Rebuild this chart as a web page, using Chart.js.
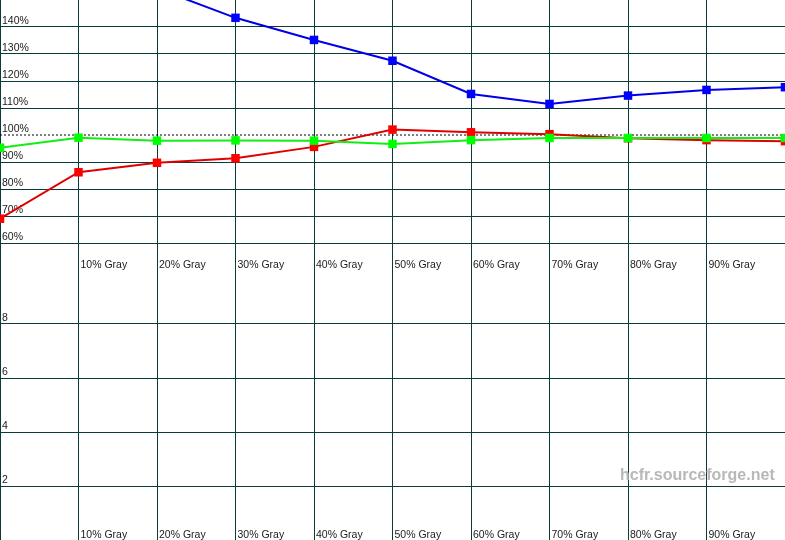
<!DOCTYPE html>
<html>
<head>
<meta charset="utf-8">
<title>HCFR - RGB levels</title>
<script src="https://cdn.jsdelivr.net/npm/chart.js@4.4.1/dist/chart.umd.min.js"></script>
<style>
  body { margin: 0; background: #fff; }
  #wrap { position: relative; width: 785px; height: 540px; overflow: hidden; }
  canvas { position: absolute; left: 0; }
  #levels { top: 0; }
  #deltaE { top: 270px; }
  #mark {
    position: absolute; left: 620px; top: 467px;
    font: bold 16px 'Liberation Sans', Arial, sans-serif;
    line-height: 16px; color: #b8b8b8;
  }
</style>
</head>
<body>
<div id="wrap">
  <canvas id="levels" width="785" height="270"></canvas>
  <canvas id="deltaE" width="785" height="270"></canvas>
  <div id="mark">hcfr.sourceforge.net</div>
</div>
<script>
// gray steps along the bottom
const xLabels = ['', '10% Gray', '20% Gray', '30% Gray', '40% Gray', '50% Gray',
                 '60% Gray', '70% Gray', '80% Gray', '90% Gray', ''];

// RGB levels in % (blue 0% and 10% are off the top of the graph)
const redLevels   = [69.0, 86.2, 89.7, 91.4, 95.6, 102.0, 101.0, 100.3, 98.8, 98.1, 97.7];
const greenLevels = [95.3, 99.0, 97.9, 98.0, 97.9, 96.7, 98.1, 98.9, 98.9, 98.9, 98.9];
const blueLevels  = [190, 170, 154.3, 143.4, 135.2, 127.5, 115.2, 111.5, 114.6, 116.7, 117.7];
const reference   = [100, 100, 100, 100, 100, 100, 100, 100, 100, 100, 100];

const gridColor = '#0a3a3a';
const textColor = '#1a1a1a';
const font = { family: "'Liberation Sans', Arial, sans-serif", size: 10.5 };

Chart.defaults.animation = false;
Chart.defaults.devicePixelRatio = 1;

// labels sit inside the plot, so the axes take no room at all
function noRoom(axis) {
    if (axis.isHorizontal()) axis.height = 0; else axis.width = 0;
    axis.paddingTop = 0;
    axis.paddingBottom = 0;
    axis.paddingLeft = 0;
    axis.paddingRight = 0;
}

function xScale() {
    return {
        grid: {
            drawTicks: false,
            color: c => c.index === 10 ? 'transparent' : gridColor
        },
        border: { display: false },
        ticks: {
            mirror: true,
            align: 'start',
            labelOffset: 2,
            padding: -1.5,
            maxRotation: 0,
            autoSkip: false,
            color: textColor,
            font: font
        },
        afterFit: noRoom
    };
}

function yScale(min, max, step, hidden, suffix) {
    return {
        min: min,
        max: max,
        grid: {
            drawTicks: false,
            color: c => hidden.includes(c.tick.value) ? 'transparent' : gridColor
        },
        border: { display: false },
        ticks: {
            stepSize: step,
            mirror: true,
            padding: 2,
            labelOffset: -6,
            color: textColor,
            font: font,
            callback: v => (v === min || v === max) ? '' : v + suffix
        },
        afterFit: noRoom
    };
}

function series(label, data, line, point) {
    return {
        label: label,
        data: data,
        borderColor: line,
        backgroundColor: point,
        borderWidth: 2,
        pointStyle: 'rect',
        pointRadius: 6,
        pointBorderWidth: 0,
        pointBackgroundColor: point,
        tension: 0
    };
}

const common = {
    responsive: false,
    layout: { padding: 0, autoPadding: false },
    plugins: { legend: { display: false }, tooltip: { enabled: false } }
};

new Chart(document.getElementById('levels'), {
    type: 'line',
    data: {
        labels: xLabels,
        datasets: [
            series('Green', greenLevels, '#11ee11', '#00ff00'),
            series('Red', redLevels, '#e00000', '#ff0000'),
            series('Blue', blueLevels, '#0000e6', '#0000ff'),
            {
                label: 'Reference',
                data: reference,
                borderColor: '#000',
                borderWidth: 1,
                borderDash: [2, 2],
                pointRadius: 0
            }
        ]
    },
    options: {
        ...common,
        scales: {
            x: xScale(),
            y: yScale(50, 150, 10, [50, 100, 150], '%')
        }
    }
});

new Chart(document.getElementById('deltaE'), {
    type: 'line',
    data: {
        labels: xLabels,
        datasets: []
    },
    options: {
        ...common,
        scales: {
            x: xScale(),
            y: yScale(0, 10, 2, [0, 10], '')
        }
    }
});
</script>
</body>
</html>
